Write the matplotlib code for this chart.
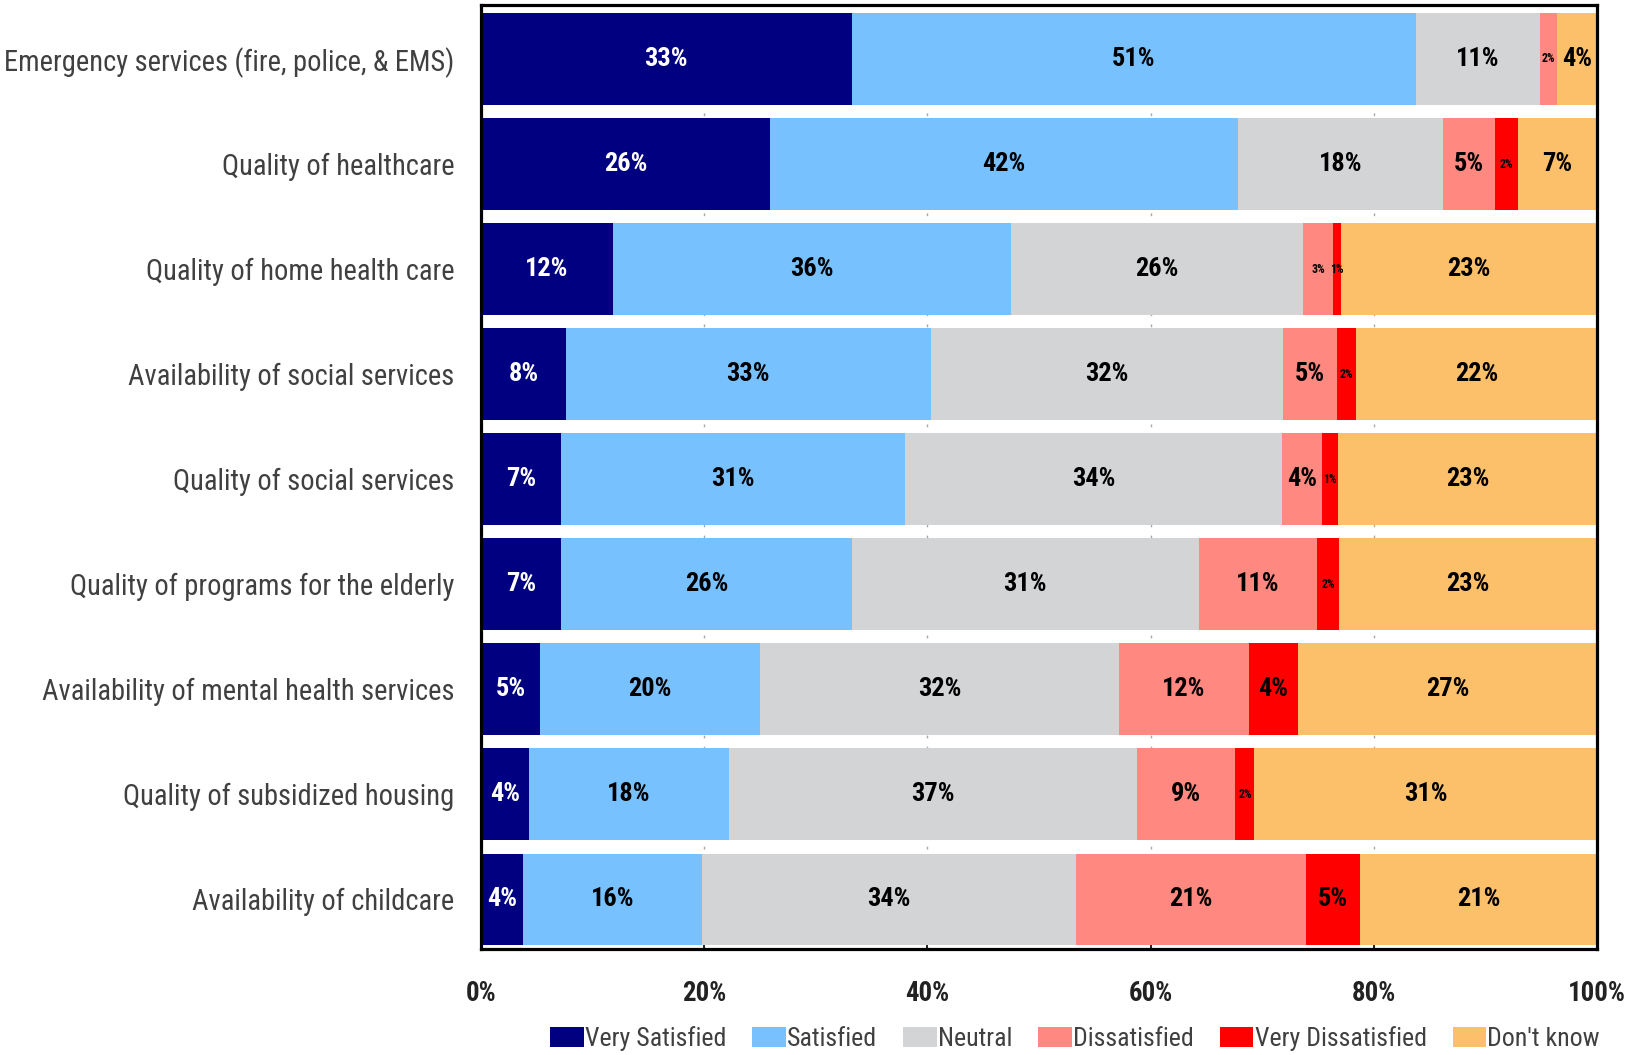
import matplotlib
matplotlib.use("Agg")
import matplotlib.pyplot as plt
from matplotlib import font_manager
from matplotlib.patches import Patch
import numpy as np

categories = [
    "Emergency services (fire, police, & EMS)",
    "Quality of healthcare",
    "Quality of home health care",
    "Availability of social services",
    "Quality of social services",
    "Quality of programs for the elderly",
    "Availability of mental health services",
    "Quality of subsidized housing",
    "Availability of childcare",
]
series_names = ["Very Satisfied", "Satisfied", "Neutral", "Dissatisfied",
                "Very Dissatisfied", "Don't know"]
very_satisfied    = [33.2, 25.9, 11.8, 7.6, 7.2, 7.2, 5.3, 4.3, 3.8]
satisfied         = [50.6, 41.9, 35.7, 32.7, 30.8, 26.0, 19.7, 17.9, 16.0]
neutral           = [11.1, 18.4, 26.2, 31.6, 33.8, 31.1, 32.2, 36.6, 33.5]
dissatisfied      = [1.5, 4.7, 2.6, 4.8, 3.6, 10.6, 11.6, 8.8, 20.6]
very_dissatisfied = [0.0, 2.0, 0.8, 1.7, 1.4, 2.0, 4.4, 1.7, 4.9]
dont_know         = [3.6, 7.1, 22.9, 21.6, 23.2, 23.1, 26.8, 30.7, 21.2]
x_ticks = [0, 20, 40, 60, 80, 100]
x_tick_labels = ["0%", "20%", "40%", "60%", "80%", "100%"]

series = [very_satisfied, satisfied, neutral, dissatisfied, very_dissatisfied, dont_know]
colors = ["#000080", "#78C1FF", "#D3D4D6", "#FF8880", "#FF0000", "#FDC06A"]
label_colors = ["white", "black", "black", "black", "black", "black"]

names = {f.name for f in font_manager.fontManager.ttflist}
family = next((n for n in ["Liberation Sans Narrow", "DejaVu Sans Condensed",
                           "Roboto Condensed", "Open Sans Condensed", "Lato"]
               if n in names), "DejaVu Sans")
plt.rcParams["font.family"] = [family, "DejaVu Sans"]

fig = plt.figure(figsize=(16.26, 10.55), dpi=100)
renderer = fig.canvas.get_renderer()


def fit_size(s, target_px, weight="normal"):
    t = fig.text(0, 0, s, fontsize=10, fontweight=weight)
    w = t.get_window_extent(renderer).width
    t.remove()
    return 10.0 * target_px / w


cat_fs = fit_size(categories[0], 448)
bar_fs = fit_size("33%", 44, "bold")
tick_fs = fit_size("100%", 58, "bold")
leg_fs = fit_size("Very Satisfied", 140)

ax = fig.add_axes([481 / 1626, 1 - 949 / 1055, (1597 - 481) / 1626, (949 - 5) / 1055])

y = np.arange(len(categories))
left = np.zeros(len(categories))
for vals, name, col, lc in zip(series, series_names, colors, label_colors):
    vals = np.array(vals)
    ax.barh(y, vals, left=left, height=0.87, color=col, label=name, zorder=2)
    for yi, (v, l0) in enumerate(zip(vals, left)):
        if v <= 0:
            continue
        fs = bar_fs if v >= 3 else bar_fs * 0.45
        ax.text(l0 + v / 2, yi, f"{round(v):d}%", ha="center", va="center",
                fontsize=fs, fontweight="bold", color=lc, zorder=3)
    left += vals

ax.set_xlim(0, 100)
ax.set_ylim(8.474, -0.514)
ax.set_yticks(y)
ax.set_yticklabels(categories, fontsize=cat_fs, color="#404040")
ax.tick_params(axis="y", length=0, pad=19)
ax.set_xticks(x_ticks)
ax.set_xticklabels(x_tick_labels, fontsize=tick_fs, fontweight="bold", color="#222222")
ax.tick_params(axis="x", direction="in", length=5, width=1.2, pad=22)
ax.xaxis.grid(True, linestyle=(0, (2, 6)), color="#a6a6a6", linewidth=1.0, zorder=0)
ax.set_axisbelow(True)
for sp in ax.spines.values():
    sp.set_linewidth(2.3)
    sp.set_color("black")

handles = [Patch(facecolor=c, edgecolor="none") for c in colors]
fig.legend(handles, series_names, loc="center right", bbox_to_anchor=(0.984, 0.0155),
           ncol=6, frameon=False, fontsize=leg_fs, handlelength=1.3, handleheight=0.8,
           handletextpad=0.05, columnspacing=1.0, labelcolor="#404040", borderpad=0,
           borderaxespad=0)

fig.savefig("out.png", dpi=100)
